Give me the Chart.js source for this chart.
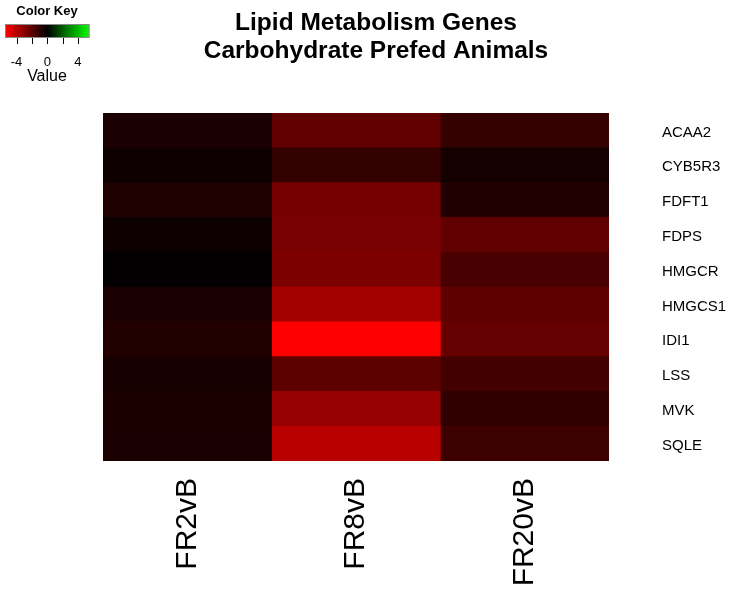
<!DOCTYPE html>
<html>
<head>
<meta charset="utf-8">
<title>Lipid Metabolism Genes</title>
<script src="https://cdn.jsdelivr.net/npm/chart.js@4.4.0/dist/chart.umd.min.js"></script>
<style>
  html, body { margin: 0; padding: 0; background: #fff; }
  #wrap { width: 734px; height: 594px; }
</style>
</head>
<body>
<div id="wrap"><canvas id="heatmap" width="734" height="594"></canvas></div>
<script>
// Heatmap data (log fold change vs baseline)
const genes = ['ACAA2', 'CYB5R3', 'FDFT1', 'FDPS', 'HMGCR', 'HMGCS1', 'IDI1', 'LSS', 'MVK', 'SQLE'];
const contrasts = ['FR2vB', 'FR8vB', 'FR20vB'];
const fr2vB  = [-0.56, -0.32, -0.65, -0.28, -0.04, -0.56, -0.73, -0.52, -0.58, -0.56];
const fr8vB  = [-2.07, -1.10, -2.50, -2.59, -2.67, -3.56, -5.50, -1.98, -3.24, -3.97];
const fr20vB = [-1.14, -0.45, -0.69, -2.07, -1.55, -2.03, -2.20, -1.42, -1.04, -1.29];
const keyTicks = [-4, -2, 0, 2, 4];
const keyLabels = [-4, 0, 4];
const keyRange = 5.5;

const FONT = "'Liberation Sans', Arial, sans-serif";
const series = [fr2vB, fr8vB, fr20vB];

// red (neg) -> black (0) -> green (pos)
function valueColor(v) {
  const t = Math.min(1, Math.abs(v) / keyRange);
  const c = Math.round(255 * t);
  return v < 0 ? `rgb(${c},0,0)` : `rgb(0,${c},0)`;
}

// Title + color key drawn on the canvas
const decorations = {
  id: 'decorations',
  afterDraw(chart) {
    const ctx = chart.ctx;
    ctx.save();
    ctx.fillStyle = '#000';
    ctx.textAlign = 'center';
    ctx.textBaseline = 'alphabetic';
    ctx.font = `bold 24.5px ${FONT}`;
    ctx.fillText('Lipid Metabolism Genes', 376, 30);
    ctx.fillText('Carbohydrate Prefed Animals', 376, 58);

    // color key
    const kx0 = 5, kx1 = 89.5, ky0 = 24, ky1 = 38;
    const toX = v => kx0 + (v + keyRange) / (2 * keyRange) * (kx1 - kx0);
    ctx.font = `bold 13px ${FONT}`;
    ctx.fillText('Color Key', 47, 15);
    const grad = ctx.createLinearGradient(kx0, 0, kx1, 0);
    grad.addColorStop(0, valueColor(-keyRange));
    grad.addColorStop(0.5, '#000');
    grad.addColorStop(1, valueColor(keyRange));
    ctx.fillStyle = grad;
    ctx.fillRect(kx0, ky0, kx1 - kx0, ky1 - ky0);
    ctx.strokeStyle = '#888';
    ctx.lineWidth = 1;
    ctx.strokeRect(kx0 + 0.5, ky0 + 0.5, kx1 - kx0 - 1, ky1 - ky0 - 1);
    ctx.strokeStyle = '#000';
    keyTicks.forEach(t => {
      const x = Math.round(toX(t)) + 0.5;
      ctx.beginPath();
      ctx.moveTo(x, ky1);
      ctx.lineTo(x, ky1 + 6);
      ctx.stroke();
    });
    ctx.fillStyle = '#000';
    ctx.font = `13px ${FONT}`;
    keyLabels.forEach(t => ctx.fillText(String(t), toX(t), 66));
    ctx.font = `16px ${FONT}`;
    ctx.fillText('Value', 47, 81);
    ctx.restore();
  }
};

new Chart(document.getElementById('heatmap').getContext('2d'), {
  type: 'bar',
  data: {
    labels: genes,
    datasets: contrasts.map((name, c) => ({
      label: name,
      data: genes.map(() => [c, c + 1]),
      backgroundColor: series[c].map(valueColor),
      borderWidth: 0,
      grouped: false,
      barPercentage: 1,
      categoryPercentage: 1
    }))
  },
  options: {
    indexAxis: 'y',
    responsive: false,
    animation: false,
    layout: { padding: { left: 103, top: 113, right: 0, bottom: 0 } },
    scales: {
      x: {
        type: 'linear',
        position: 'bottom',
        min: 0,
        max: 3,
        offset: false,
        grid: { display: false, drawTicks: false },
        border: { display: false },
        afterBuildTicks: scale => {
          scale.ticks = contrasts.map((_, i) => ({ value: i + 0.5 }));
        },
        afterFit: scale => { scale.height = 133; },
        ticks: {
          autoSkip: false,
          minRotation: 90,
          maxRotation: 90,
          padding: 17,
          color: '#000',
          font: { family: FONT, size: 30 },
          callback: (value, index) => contrasts[index]
        }
      },
      y: {
        type: 'category',
        position: 'right',
        grid: { display: false, drawTicks: false },
        border: { display: false },
        afterFit: scale => { scale.width = 125; },
        ticks: {
          padding: 53,
          labelOffset: 2,
          color: '#000',
          font: { family: FONT, size: 15 }
        }
      }
    },
    plugins: {
      legend: { display: false },
      tooltip: { enabled: false },
      title: { display: false }
    }
  },
  plugins: [decorations]
});
</script>
</body>
</html>
